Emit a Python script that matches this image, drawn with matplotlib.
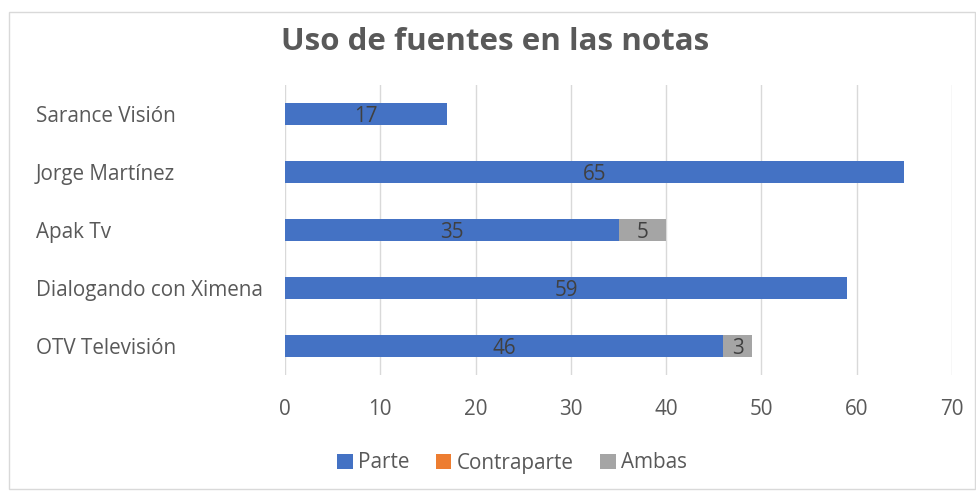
import matplotlib
matplotlib.use("Agg")
import matplotlib.pyplot as plt
from matplotlib.patches import Rectangle
import matplotlib.transforms as mtransforms
import numpy as np

plt.rcParams['font.family'] = ['Open Sans', 'DejaVu Sans']

categories = ["Sarance Visión", "Jorge Martínez", "Apak Tv", "Dialogando con Ximena", "OTV Televisión"]
parte = [17, 65, 35, 59, 46]
contraparte = [0, 0, 0, 0, 0]
ambas = [0, 0, 5, 0, 3]
series_names = ["Parte", "Contraparte", "Ambas"]
colors = ["#4472C4", "#ED7D31", "#A5A5A5"]
xticks = [0, 10, 20, 30, 40, 50, 60, 70]
title = "Uso de fuentes en las notas"

FS = 14.9

fig = plt.figure(figsize=(9.76, 4.91), dpi=100)
fig.patches.append(Rectangle((9/976, 0.004), 0.99, 1 - 12/491 - 0.004, transform=fig.transFigure,
                             fill=False, edgecolor="#D9D9D9", linewidth=1))
ax = fig.add_axes([285/976, 1 - 375/491, (952 - 285)/976, (375 - 85)/491])

y = np.arange(len(categories))
left = np.zeros(len(categories))
h = 0.38
for vals, name, c in zip([parte, contraparte, ambas], series_names, colors):
    vals = np.array(vals, dtype=float)
    bars = ax.barh(y, vals, left=left, height=h, color=c, label=name, zorder=3)
    for b, v in zip(bars, vals):
        if v > 0:
            ax.text(b.get_x() + b.get_width() / 2, b.get_y() + b.get_height() / 2, f"{int(v)}",
                    ha="center", va="center_baseline", fontsize=FS, color="#404040", zorder=4)
    left += vals

ax.set_xlim(0, 70)
ax.set_ylim(len(categories) - 0.5, -0.5)
ax.set_xticks(xticks)
ax.set_xticklabels([str(t) for t in xticks], fontsize=FS, color="#595959")
ax.tick_params(axis="x", length=0, pad=17)
ax.set_yticks(y)
ax.set_yticklabels([])
ax.tick_params(axis="y", length=0)
trans = mtransforms.blended_transform_factory(fig.transFigure, ax.transData)
for yi, cat in zip(y, categories):
    ax.text(36/976, yi, cat, transform=trans, ha="left", va="center_baseline", fontsize=FS, color="#595959")

ax.grid(axis="x", color="#D9D9D9", linewidth=1, zorder=0)
for s in ax.spines.values():
    s.set_visible(False)

fig.text(495/976, 1 - 38/491, title, ha="center", va="center_baseline", fontsize=22.5, fontweight="bold", color="#595959")

leg = fig.legend(loc="center", bbox_to_anchor=(512/976, 1 - 463/491), ncol=3, frameon=False,
                 fontsize=FS, handlelength=0.75, handleheight=0.75, handletextpad=0.25, columnspacing=1.3)
for t in leg.get_texts():
    t.set_color("#595959")

fig.savefig("out.png", dpi=100)
